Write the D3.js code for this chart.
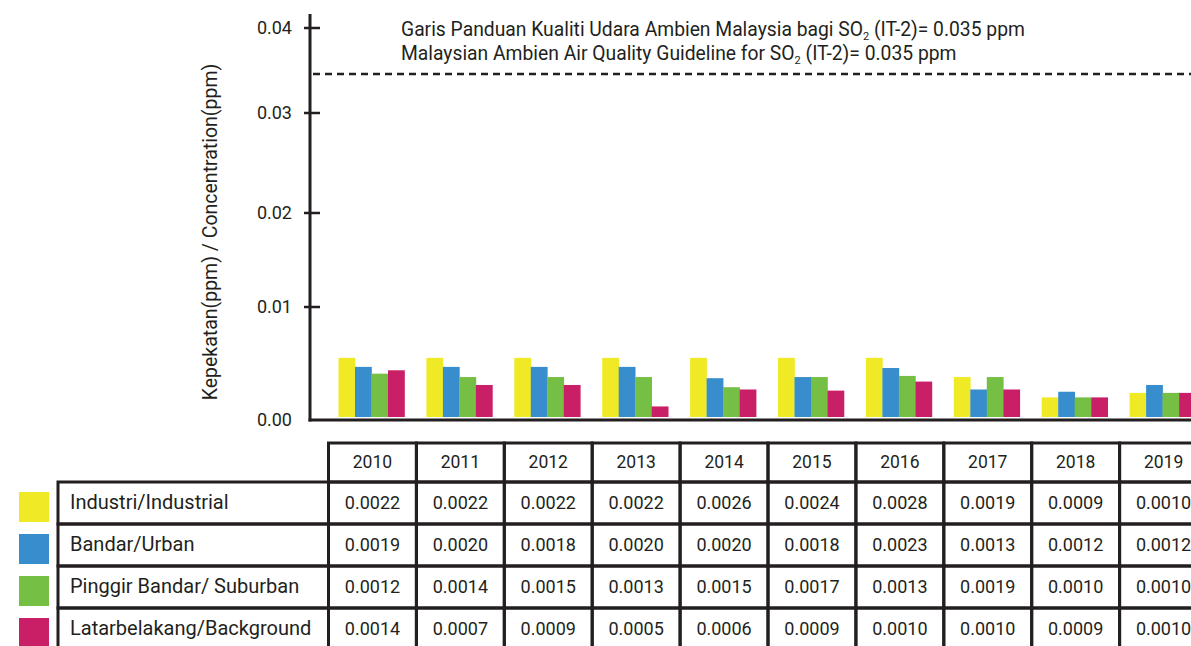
<!DOCTYPE html>
<html>
<head>
<meta charset="utf-8">
<script src="https://cdn.jsdelivr.net/npm/d3@7"></script>
<style>
  body { margin: 0; background: #fff; }
  svg { display: block; font-family: Roboto, "Noto Sans", sans-serif; }
</style>
</head>
<body>
<div id="chart"></div>
<script>
// Years and series
const years = ["2010", "2011", "2012", "2013", "2014", "2015", "2016", "2017", "2018", "2019"];
const seriesNames = ["Industri/Industrial", "Bandar/Urban", "Pinggir Bandar/ Suburban", "Latarbelakang/Background"];
const seriesColors = ["#f0e926", "#388dcd", "#74bf44", "#c91f66"];

// Table values (ppm)
const industrial = ["0.0022", "0.0022", "0.0022", "0.0022", "0.0026", "0.0024", "0.0028", "0.0019", "0.0009", "0.0010"];
const urban      = ["0.0019", "0.0020", "0.0018", "0.0020", "0.0020", "0.0018", "0.0023", "0.0013", "0.0012", "0.0012"];
const suburban   = ["0.0012", "0.0014", "0.0015", "0.0013", "0.0015", "0.0017", "0.0013", "0.0019", "0.0010", "0.0010"];
const background = ["0.0014", "0.0007", "0.0009", "0.0005", "0.0006", "0.0009", "0.0010", "0.0010", "0.0009", "0.0010"];

// Bar heights as drawn in the figure
const barIndustrial = [0.0055, 0.0055, 0.0055, 0.0055, 0.0055, 0.0055, 0.0055, 0.0038, 0.0020, 0.0024];
const barUrban      = [0.0047, 0.0047, 0.0047, 0.0047, 0.0037, 0.0038, 0.0046, 0.0027, 0.0025, 0.0031];
const barSuburban   = [0.0041, 0.0038, 0.0038, 0.0038, 0.0029, 0.0038, 0.0039, 0.0038, 0.0020, 0.0024];
const barBackground = [0.0044, 0.0031, 0.0031, 0.0012, 0.0027, 0.0026, 0.0034, 0.0027, 0.0020, 0.0024];

const yTicks = [0, 0.01, 0.02, 0.03, 0.04];
const guideLevel = 0.0346; // dashed line as drawn
const titleLines = [
  ["Garis Panduan Kualiti Udara Ambien Malaysia bagi SO", "2", " (IT-2)= 0.035 ppm"],
  ["Malaysian Ambien Air Quality Guideline for SO", "2", " (IT-2)= 0.035 ppm"]
];
const yLabel = "Kepekatan(ppm) / Concentration(ppm)";

const tableValues = [industrial, urban, suburban, background];
const barValues = [barIndustrial, barUrban, barSuburban, barBackground];

const W = 1191, H = 646;
const ink = "#231f20";

const svg = d3.select("#chart").append("svg")
  .attr("width", W)
  .attr("height", H);

// the printed axis is not evenly spaced, so a piecewise scale
const y = d3.scaleLinear()
  .domain(yTicks)
  .range([420, 307, 213, 113, 28]);

// columns shared by bars and table
const x = d3.scaleBand()
  .domain(years)
  .range([328.5, 1207.5])
  .padding(0);

const xInner = d3.scaleBand()
  .domain(d3.range(seriesNames.length))
  .range([0, 66]);

const axisX = 310;

// bars
const groups = svg.append("g").selectAll("g")
  .data(years)
  .join("g")
  .attr("transform", d => `translate(${x(d) + 10},0)`);

groups.selectAll("rect")
  .data((yr, i) => barValues.map((s, k) => ({ k: k, v: s[i] })))
  .join("rect")
  .attr("x", d => xInner(d.k))
  .attr("width", xInner.bandwidth() + 0.3)
  .attr("y", d => y(d.v))
  .attr("height", d => y(0) - 3 - y(d.v))
  .attr("fill", d => seriesColors[d.k]);

// y axis
svg.append("line")
  .attr("x1", axisX).attr("x2", axisX)
  .attr("y1", 14).attr("y2", y(0) + 1.5)
  .attr("stroke", ink).attr("stroke-width", 3);

svg.append("line")
  .attr("x1", axisX - 1.5).attr("x2", W)
  .attr("y1", y(0)).attr("y2", y(0))
  .attr("stroke", ink).attr("stroke-width", 3);

svg.append("g").selectAll("line")
  .data(yTicks.filter(d => d > 0))
  .join("line")
  .attr("x1", axisX - 6).attr("x2", axisX + 10)
  .attr("y1", d => y(d)).attr("y2", d => y(d))
  .attr("stroke", ink).attr("stroke-width", 2.5);

svg.append("g").selectAll("text")
  .data(yTicks)
  .join("text")
  .attr("x", axisX - 18)
  .attr("y", d => y(d) + 1)
  .attr("text-anchor", "end")
  .attr("dominant-baseline", "middle")
  .attr("font-size", 18)
  .attr("fill", ink)
  .text(d => d3.format(".2f")(d));

svg.append("text")
  .attr("transform", `translate(217,232) rotate(-90)`)
  .attr("text-anchor", "middle")
  .attr("font-size", 19.5)
  .attr("fill", ink)
  .text(yLabel);

// guideline
svg.append("line")
  .attr("x1", axisX + 3).attr("x2", W)
  .attr("y1", y(guideLevel)).attr("y2", y(guideLevel))
  .attr("stroke", ink).attr("stroke-width", 2.5)
  .attr("stroke-dasharray", "7,5");

const title = svg.append("g");
titleLines.forEach((parts, i) => {
  const t = title.append("text")
    .attr("x", 401)
    .attr("y", 35.5 + i * 24.5)
    .attr("font-size", 19.3)
    .attr("fill", ink);
  t.append("tspan").text(parts[0]);
  t.append("tspan").attr("font-size", 11).attr("dy", 4).text(parts[1]);
  t.append("tspan").attr("dy", -4).text(parts[2]);
});

// table
const table = svg.append("g");
const headTop = 443, rowTop = 482, rowH = 42, labelLeft = 58;
const rowY = d3.scaleBand()
  .domain(d3.range(seriesNames.length))
  .range([rowTop, rowTop + rowH * seriesNames.length]);

// header
table.selectAll("rect.head")
  .data(years)
  .join("rect")
  .attr("class", "head")
  .attr("x", d => x(d))
  .attr("y", headTop)
  .attr("width", x.bandwidth())
  .attr("height", rowTop - headTop)
  .attr("fill", "none")
  .attr("stroke", ink)
  .attr("stroke-width", 3);

table.selectAll("text.head")
  .data(years)
  .join("text")
  .attr("class", "head")
  .attr("x", d => x(d) + x.bandwidth() / 2)
  .attr("y", (headTop + rowTop) / 2 + 1)
  .attr("text-anchor", "middle")
  .attr("dominant-baseline", "middle")
  .attr("font-size", 17.5)
  .attr("fill", ink)
  .text(d => d);

// rows
const rows = table.selectAll("g.row")
  .data(seriesNames)
  .join("g")
  .attr("class", "row")
  .attr("transform", (d, i) => `translate(0,${rowY(i)})`);

rows.append("rect")
  .attr("x", labelLeft)
  .attr("width", x.range()[0] - labelLeft)
  .attr("height", rowY.bandwidth())
  .attr("fill", "none")
  .attr("stroke", ink)
  .attr("stroke-width", 3);

rows.append("text")
  .attr("x", labelLeft + 12)
  .attr("y", rowY.bandwidth() / 2 + 1)
  .attr("dominant-baseline", "middle")
  .attr("font-size", 20)
  .attr("fill", ink)
  .text(d => d);

rows.append("rect")
  .attr("x", 19)
  .attr("y", 10)
  .attr("width", 30)
  .attr("height", 30)
  .attr("fill", (d, i) => seriesColors[i]);

rows.each(function(name, i) {
  const r = d3.select(this);
  r.selectAll("rect.cell")
    .data(years)
    .join("rect")
    .attr("class", "cell")
    .attr("x", d => x(d))
    .attr("width", x.bandwidth())
    .attr("height", rowY.bandwidth())
    .attr("fill", "none")
    .attr("stroke", ink)
    .attr("stroke-width", 3);
  r.selectAll("text.cell")
    .data(tableValues[i])
    .join("text")
    .attr("class", "cell")
    .attr("x", (d, j) => x(years[j]) + x.bandwidth() / 2)
    .attr("y", rowY.bandwidth() / 2 + 1)
    .attr("text-anchor", "middle")
    .attr("dominant-baseline", "middle")
    .attr("font-size", 18)
    .attr("fill", ink)
    .text(d => d);
});
</script>
</body>
</html>
